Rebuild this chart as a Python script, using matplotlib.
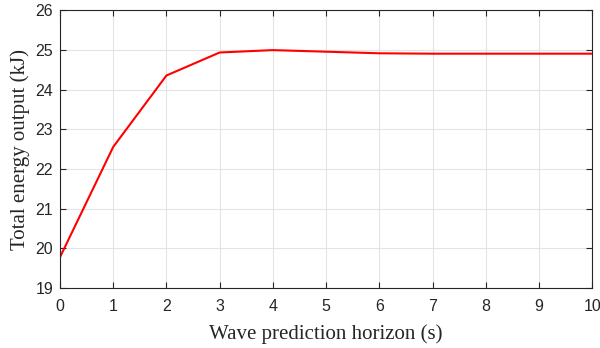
import numpy as np
import matplotlib
matplotlib.use('agg')
import matplotlib.pyplot as plt

## Data
horizon = [0, 1, 2, 3, 4, 5, 6, 7, 8, 9, 10]
energy = [19.78, 22.56, 24.36, 24.94, 25.00, 24.96, 24.92, 24.91, 24.91, 24.91, 24.91]
x_ticks = [0, 1, 2, 3, 4, 5, 6, 7, 8, 9, 10]
y_ticks = [19, 20, 21, 22, 23, 24, 25, 26]

fig = plt.figure(figsize=(6, 3.48), dpi=100)
ax = fig.add_axes([0.1, 0.172, 0.887, 0.798])

ax.plot(horizon, energy, color='#ff0000', lw=1.5)

ax.set_xlim(0, 10)
ax.set_ylim(19, 26)
ax.set_xticks(x_ticks)
ax.set_yticks(y_ticks)
ax.grid(True, color='#e3e3e3', lw=0.8)
ax.set_axisbelow(True)

ax.tick_params(direction='in', top=True, right=True, length=4, width=0.8,
               colors='#262626', labelsize=11.5)
ax.tick_params(axis='x', pad=8)
ax.tick_params(axis='y', pad=5)
for lab in ax.get_xticklabels() + ax.get_yticklabels():
    lab.set_fontfamily('Liberation Sans')
for sp in ax.spines.values():
    sp.set_color('#262626')
    sp.set_linewidth(0.8)

ax.set_xlabel('Wave prediction horizon (s)', fontfamily='Liberation Serif',
              fontsize=15, color='#262626', labelpad=7)
ax.set_ylabel('Total energy output (kJ)', fontfamily='Liberation Serif',
              fontsize=15, color='#262626', labelpad=4)

fig.savefig('out.png', dpi=100)
plt.close()
